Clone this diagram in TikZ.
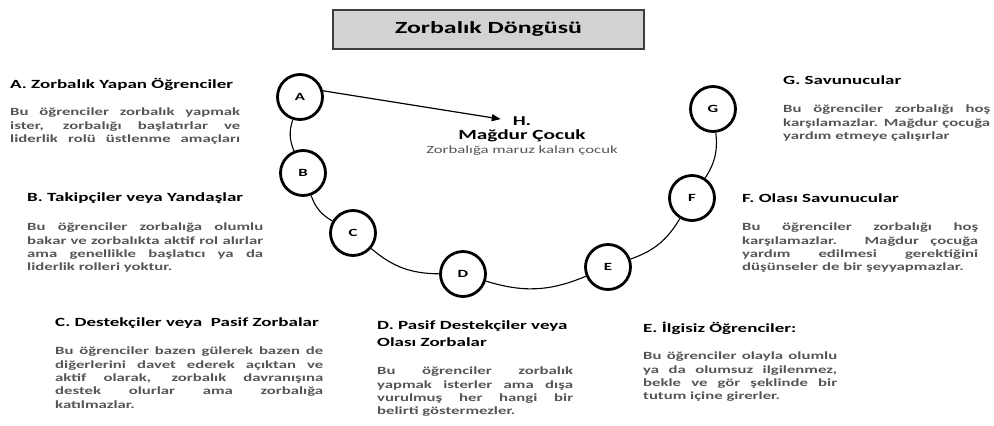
\documentclass[tikz,border=0pt]{standalone}
\usepackage{fontspec}
\setmainfont{Carlito}[FakeStretch=1.52]
\usepackage{tikz}
\usetikzlibrary{arrows.meta, positioning}
\definecolor{bodygray}{HTML}{555555}
\definecolor{titlefill}{HTML}{D2D2D2}
\definecolor{titleline}{HTML}{3C3C3C}
\newcommand{\jl}[2]{\makebox[#1pt][s]{#2}}

\begin{document}
\begin{tikzpicture}[
        x=1pt, y=-1pt,
        title/.style = {draw=titleline, fill=titlefill, line width=2pt, minimum width=311pt, minimum height=39pt, font=\fontsize{17}{20}\selectfont\bfseries},
        role/.style = {draw, circle, line width=2.8pt, minimum size=45pt, inner sep=0pt, font=\fontsize{11}{12}\selectfont\bfseries},
        head/.style = {anchor=west, inner sep=0pt, font=\fontsize{12.5}{16.7}\selectfont\bfseries},
        body/.style = {anchor=north west, inner sep=0pt, align=left, text=bodygray, font=\fontsize{11}{13.3}\selectfont\bfseries},
        link/.style = {line width=1.1pt, bend right=20},
        arrow/.style = {line width=1.2pt, -{Triangle[length=9pt, width=7pt]}}
    ]
        \useasboundingbox (0,0) rectangle (994,426);

        % Title
        \node (title) [title] at (488.5,29) {Zorbalık Döngüsü};

        % The cycle
        \node (A) [role] at (300,97) {A};
        \node (B) [role] at (303,173) {B};
        \node (C) [role] at (353,233) {C};
        \node (D) [role] at (463,274) {D};
        \node (E) [role] at (608,267) {E};
        \node (F) [role] at (692,198) {F};
        \node (G) [role] at (713,109) {G};

        \draw [link] (A) to (B);
        \draw [link] (B) to (C);
        \draw [link] (C) to (D);
        \draw [link] (D) to (E);
        \draw [link] (E) to (F);
        \draw [link] (F) to (G);

        % Victim
        \node (hdot) [inner sep=0pt, font=\fontsize{13.5}{15}\selectfont\bfseries] at (522,121) {H.};
        \node (hname) [below=4pt of hdot, inner sep=0pt, font=\fontsize{14}{16}\selectfont\bfseries] {Mağdur Çocuk};
        \node (hnote) [below=3pt of hname, inner sep=0pt, text=bodygray, font=\fontsize{11}{13}\selectfont] {Zorbalığa maruz kalan çocuk};
        \draw [arrow, shorten >=12pt] (A.15) -- (hdot.west);

        % A
        \node (Ahead) [head] at (10,84) {A. Zorbalık Yapan Öğrenciler};
        \node (Abody) [body] at (10,108) {\jl{230}{Bu öğrenciler zorbalık yapmak}\\\jl{230}{ister, zorbalığı başlatırlar ve}\\\jl{230}{liderlik rolü üstlenme amaçları}};

        % B
        \node (Bhead) [head] at (27,198) {B. Takipçiler veya Yandaşlar};
        \node (Bbody) [body] at (27,223) {\jl{236}{Bu öğrenciler zorbalığa olumlu}\\\jl{236}{bakar ve zorbalıkta aktif rol alırlar}\\\jl{236}{ama genellikle başlatıcı ya da}\\liderlik rolleri yoktur.};

        % C
        \node (Chead) [head] at (55,323) {C. Destekçiler veya\ \ Pasif Zorbalar};
        \node (Cbody) [body] at (55,347) {\jl{268}{Bu öğrenciler bazen gülerek bazen de}\\\jl{268}{diğerlerini davet ederek açıktan ve}\\\jl{268}{aktif olarak, zorbalık davranışına}\\\jl{268}{destek olurlar ama zorbalığa}\\katılmazlar.};

        % D
        \node (Dhead) [head, anchor=north west, align=left] at (377,320.5) {D. Pasif Destekçiler veya\\Olası Zorbalar};
        \node (Dbody) [body] at (377,367) {\jl{196}{Bu öğrenciler zorbalık}\\\jl{196}{yapmak isterler ama dışa}\\\jl{196}{vurulmuş her hangi bir}\\belirti göstermezler.};

        % E
        \node (Ehead) [head] at (643,328) {E. İlgisiz Öğrenciler:};
        \node (Ebody) [body] at (643,352) {\jl{194}{Bu öğrenciler olayla olumlu}\\\jl{194}{ya da olumsuz ilgilenmez,}\\\jl{194}{bekle ve gör şeklinde bir}\\tutum içine girerler.};

        % F
        \node (Fhead) [head] at (742,198) {F. Olası Savunucular};
        \node (Fbody) [body] at (742,223) {\jl{236}{Bu öğrenciler zorbalığı hoş}\\\jl{236}{karşılamazlar. Mağdur çocuğa}\\\jl{236}{yardım edilmesi gerektiğini}\\düşünseler de bir şeyyapmazlar.};

        % G
        \node (Ghead) [head] at (783,80) {G. Savunucular};
        \node (Gbody) [body] at (783,105) {\jl{207}{Bu öğrenciler zorbalığı hoş}\\\jl{207}{karşılamazlar. Mağdur çocuğa}\\yardım etmeye çalışırlar};

    \end{tikzpicture}
\end{document}
